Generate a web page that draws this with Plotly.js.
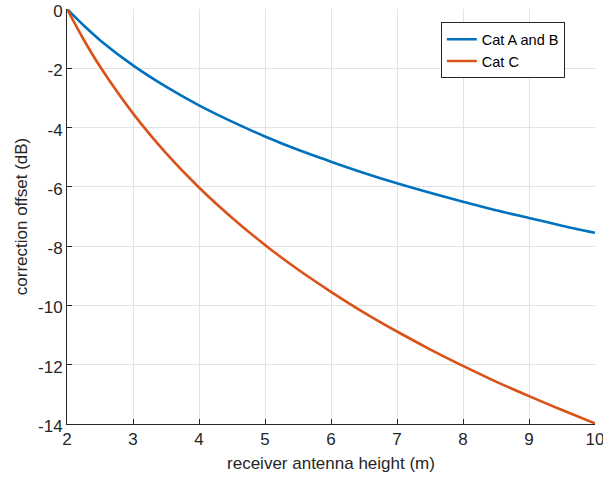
<!DOCTYPE html>
<html>
<head>
<meta charset="utf-8">
<script src="https://cdn.plot.ly/plotly-3.0.1.min.js"></script>
<style>
  html, body { margin: 0; padding: 0; background: #fff; }
  #chart { width: 603px; height: 483px; }
</style>
</head>
<body>
<div id="chart"></div>
<script>
// Receiver antenna height (m)
const heights = [2, 2.25, 2.5, 3, 3.5, 4, 4.5, 5, 5.5, 6, 6.5, 7, 7.5, 8, 8.5, 9, 9.5, 10];

// Correction offset (dB) per category
const catAB = [0, -0.55, -1.05, -1.90, -2.62, -3.25, -3.80, -4.30, -4.75, -5.15, -5.53, -5.88, -6.20, -6.50, -6.79, -7.05, -7.31, -7.55];
const catC  = [0, -1.02, -1.94, -3.52, -4.86, -6.02, -7.04, -7.96, -8.79, -9.54, -10.24, -10.88, -11.48, -12.04, -12.57, -13.06, -13.53, -13.98];

const seriesNames = ['Cat A and B', 'Cat C'];
const xTicks = [2, 3, 4, 5, 6, 7, 8, 9, 10];
const yTicks = [0, -2, -4, -6, -8, -10, -12, -14];

const fam = 'Liberation Sans, Arial, sans-serif';
const tickFont = { family: fam, size: 17, color: '#262626' };
const titleFont = { family: fam, size: 17, color: '#262626' };

const traces = [
  { x: heights, y: catAB, name: seriesNames[0], mode: 'lines',
    line: { color: '#0072BD', width: 2.6, shape: 'spline', smoothing: 0.8 } },
  { x: heights, y: catC, name: seriesNames[1], mode: 'lines',
    line: { color: '#D95319', width: 2.6, shape: 'spline', smoothing: 0.8 } }
];

const axisCommon = {
  showline: true, linecolor: '#262626', linewidth: 1,
  ticks: 'inside', ticklen: 5, tickcolor: '#262626', tickwidth: 1,
  showgrid: true, gridcolor: '#e3e3e3', gridwidth: 1,
  zeroline: false, tickfont: tickFont, ticklabeloverflow: 'allow'
};

const layout = {
  width: 603, height: 483,
  margin: { l: 67, r: 8, t: 9, b: 59 },
  paper_bgcolor: '#fff', plot_bgcolor: '#fff',
  font: tickFont,
  xaxis: Object.assign({}, axisCommon, {
    range: [2, 10], tickvals: xTicks, ticktext: xTicks.map(String),
    title: { text: 'receiver antenna height (m)', font: titleFont, standoff: 8 }
  }),
  yaxis: Object.assign({}, axisCommon, {
    range: [-14, 0], tickvals: yTicks, ticktext: yTicks.map(String),
    ticklabelshift: 2,
    title: { text: 'correction offset (dB)', font: titleFont, standoff: 6 }
  }),
  showlegend: true,
  legend: {
    x: 0.708, y: 0.968, xanchor: 'left', yanchor: 'top',
    bgcolor: '#fff', bordercolor: '#262626', borderwidth: 1,
    font: { family: fam, size: 14.5, color: '#000' },
    tracegroupgap: 0
  }
};

Plotly.newPlot('chart', traces, layout, { displayModeBar: false, staticPlot: true });
</script>
</body>
</html>
